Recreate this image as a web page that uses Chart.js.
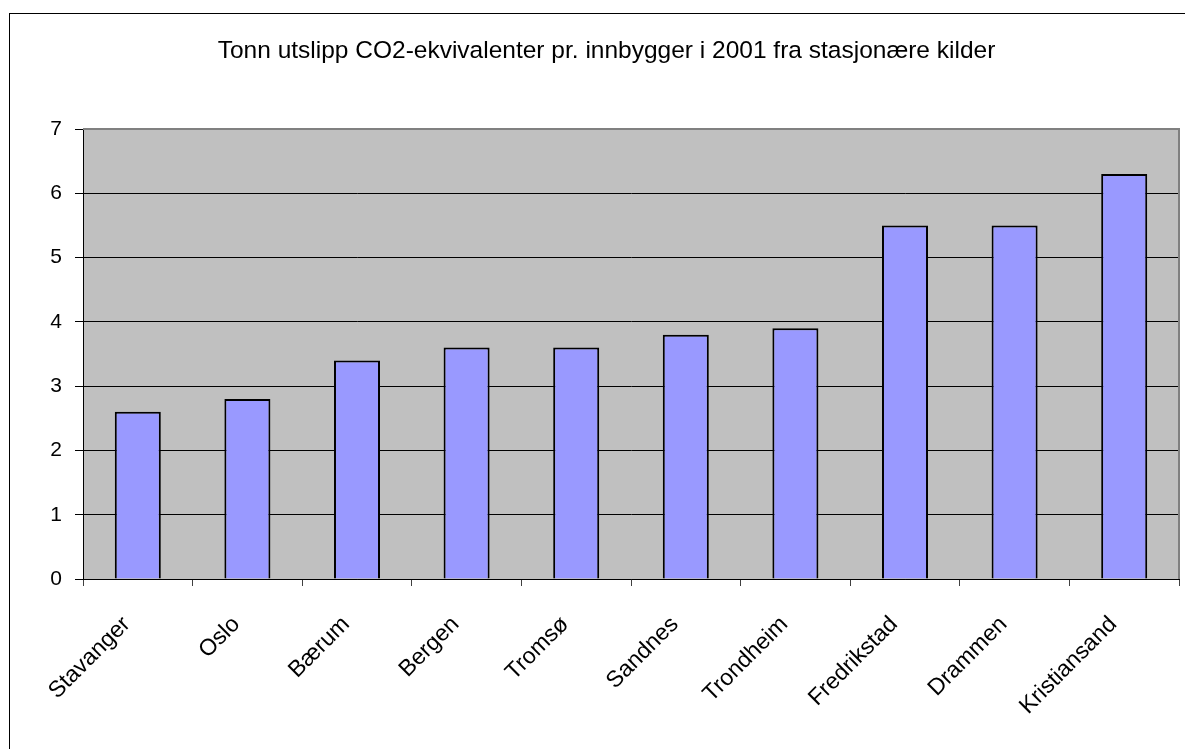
<!DOCTYPE html>
<html>
<head>
<meta charset="utf-8">
<script src="https://cdn.jsdelivr.net/npm/chart.js@4.4.1/dist/chart.umd.min.js"></script>
<style>
  html, body { margin: 0; padding: 0; background: #ffffff; }
  #wrap { width: 1185px; height: 749px; position: relative; overflow: hidden; }
</style>
</head>
<body>
<div id="wrap"><canvas id="c" width="1185" height="749"></canvas></div>
<script>
// Emissions per inhabitant (tonnes CO2-equivalents), stationary sources, 2001
const categories = ['Stavanger', 'Oslo', 'Bærum', 'Bergen', 'Tromsø', 'Sandnes', 'Trondheim', 'Fredrikstad', 'Drammen', 'Kristiansand'];
const emissions = [2.6, 2.8, 3.4, 3.6, 3.6, 3.8, 3.9, 5.5, 5.5, 6.3];
const yMin = 0;
const yMax = 7;
const yStep = 1;
const titleText = 'Tonn utslipp CO2-ekvivalenter pr. innbygger i 2001 fra stasjonære kilder';

const FONT = "'Liberation Sans', Arial, sans-serif";

// Grey plot background plus the thin grey frame on its top and right edges
const plotFrame = {
  id: 'plotFrame',
  beforeDraw(chart) {
    const { ctx, chartArea: a } = chart;
    ctx.save();
    ctx.fillStyle = '#C0C0C0';
    ctx.fillRect(a.left, a.top, a.right - a.left, a.bottom - a.top);
    ctx.restore();
  },
  afterDatasetsDraw(chart) {
    const { ctx, chartArea: a } = chart;
    ctx.save();
    ctx.strokeStyle = '#808080';
    ctx.lineWidth = 2;
    ctx.beginPath();
    ctx.moveTo(a.left, a.top);
    ctx.lineTo(a.right, a.top);
    ctx.lineTo(a.right, a.bottom);
    ctx.stroke();
    ctx.restore();
  },
  afterDraw(chart) {
    // outer chart border (right and bottom edges run past the canvas)
    const ctx = chart.ctx;
    ctx.save();
    ctx.strokeStyle = '#000000';
    ctx.lineWidth = 1;
    ctx.strokeRect(9.5, 13.5, 1400, 1000);
    ctx.restore();
  }
};

new Chart(document.getElementById('c'), {
  type: 'bar',
  data: {
    labels: categories,
    datasets: [{
      data: emissions,
      backgroundColor: '#9999FF',
      borderColor: '#000000',
      borderWidth: 2,
      barPercentage: 0.42,
      categoryPercentage: 1.0
    }]
  },
  options: {
    responsive: false,
    animation: false,
    devicePixelRatio: 1,
    layout: { padding: { left: 34, right: 6, top: 0, bottom: 0 } },
    plugins: {
      legend: { display: false },
      tooltip: { enabled: false },
      title: {
        display: true,
        text: titleText,
        color: '#000000',
        font: { family: FONT, size: 24.5, weight: 'normal', lineHeight: 1.2 },
        padding: { top: 37, bottom: 62.6 }
      }
    },
    scales: {
      x: {
        offset: true,
        grid: {
          offset: true,
          drawOnChartArea: false,
          drawTicks: true,
          tickLength: 7,
          color: '#404040'
        },
        border: { display: true, color: '#000000', width: 1 },
        ticks: {
          autoSkip: false,
          maxRotation: 45,
          minRotation: 45,
          padding: 25,
          labelOffset: -11,
          color: '#000000',
          font: { family: FONT, size: 23 }
        },
        afterFit(scale) { scale.height = 170; }
      },
      y: {
        min: yMin,
        max: yMax,
        grid: {
          color: '#000000',
          lineWidth: 1,
          drawTicks: true,
          tickLength: 8
        },
        border: { display: true, color: '#000000', width: 1 },
        ticks: {
          stepSize: yStep,
          padding: 13,
          color: '#000000',
          font: { family: FONT, size: 21 }
        },
        afterFit(scale) { scale.width = 49; }
      }
    }
  },
  plugins: [plotFrame]
});
</script>
</body>
</html>
